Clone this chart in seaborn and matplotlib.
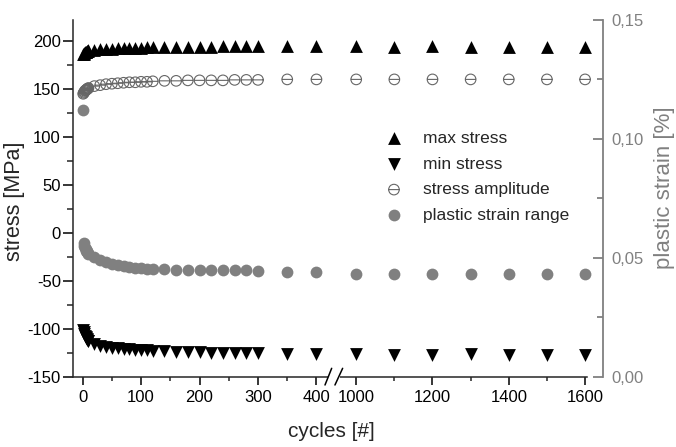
import numpy as np
import matplotlib
matplotlib.use("Agg")
import matplotlib.pyplot as plt
from matplotlib.path import Path
from matplotlib.ticker import FixedLocator, FuncFormatter
import seaborn as sns

# Low-cycle fatigue test: cyclic stress response and plastic strain range
cycles = [1, 2, 3, 4, 5, 6, 7, 8, 9, 10,
          20, 30, 40, 50, 60, 70, 80, 90, 100, 110, 120,
          140, 160, 180, 200, 220, 240, 260, 280, 300,
          350, 400,
          1000, 1100, 1200, 1300, 1400, 1500, 1600]

max_stress = [186, 187, 188, 188.5, 189, 189, 189.5, 190, 190, 190.5,
              191, 191.5, 192, 192, 192.5, 192.5, 193, 193, 193, 193.5, 193.5,
              194, 194, 194, 194, 194, 194.5, 194.5, 194.5, 194.5,
              195, 195,
              194.5, 194, 194.5, 194, 194, 194, 193.5]

min_stress = [-101, -104, -106, -108, -109, -110, -111, -112, -112.5, -113,
              -116, -118, -119, -120, -120.5, -121, -121.5, -122, -122, -122.5, -123,
              -123.5, -124, -124, -124.5, -125, -125, -125, -125.5, -125.5,
              -127, -127,
              -127, -127.5, -127.5, -126.5, -127.5, -127.5, -127.5]

stress_amplitude = [145, 146, 147, 148, 148.5, 149, 149.5, 150, 150.5, 151,
                    153, 154, 155, 155.5, 156, 156.5, 157, 157, 157.5, 157.5, 158,
                    158.5, 158.5, 159, 159, 159, 159, 159.5, 159.5, 159.5,
                    160, 160,
                    160, 160, 160, 160, 160, 160, 160]

plastic_strain_range = [0.112, 0.056, 0.055, 0.054, 0.0535, 0.053, 0.0527, 0.0523, 0.052, 0.0517,
                        0.0502, 0.049, 0.0481, 0.0475, 0.047, 0.0465, 0.0461, 0.0458, 0.0455, 0.0453, 0.0452,
                        0.0451, 0.045, 0.0449, 0.0448, 0.0448, 0.0447, 0.0447, 0.0447, 0.0446,
                        0.0441, 0.0438,
                        0.0431, 0.0432, 0.0431, 0.0432, 0.0431, 0.0431, 0.0431]

series_labels = ["max stress", "min stress", "stress amplitude", "plastic strain range"]

x_major = [0, 100, 200, 300, 400, 1000, 1200, 1400, 1600]
x_minor = [50, 150, 250, 350, 1100, 1300, 1500]
stress_major = [-150, -100, -50, 0, 50, 100, 150, 200]
stress_minor = [-125, -75, -25, 25, 75, 125, 175]
strain_major = [0.0, 0.05, 0.10, 0.15]
strain_minor = [0.025, 0.075, 0.125]

# ---------------------------------------------------------------- style
sns.set_style("ticks")
plt.rcParams["font.family"] = ["Liberation Sans", "DejaVu Sans"]
plt.rcParams["axes.unicode_minus"] = False

GRAY = "#808080"
AMP_GRAY = "#666666"

# ---------------------------------------------------------------- broken cycle axis
SEG_END, SEG_START = 400.0, 1000.0   # gap between these cycle counts
GAP = 68.0                           # width of the gap in scale units
RATIO = 0.6525                       # compression of the high-cycle segment


def fwd(x):
    x = np.asarray(x, dtype=float)
    hi = SEG_END + GAP + (x - SEG_START) * RATIO
    mid = SEG_END + (x - SEG_END) * GAP / (SEG_START - SEG_END)
    return np.where(x <= SEG_END, x, np.where(x >= SEG_START, hi, mid))


def inv(u):
    u = np.asarray(u, dtype=float)
    b1, b2 = SEG_END, SEG_END + GAP
    hi = SEG_START + (u - b2) / RATIO
    mid = SEG_END + (u - b1) * (SEG_START - SEG_END) / GAP
    return np.where(u <= b1, u, np.where(u >= b2, hi, mid))


fig = plt.figure(figsize=(6.76, 4.47), dpi=100)
ax = fig.add_axes([0.1084, 0.1577, 0.7836, 0.7976])
ax.set_xscale("function", functions=(fwd, inv))
ax.set_xlim(-16, 1647)
ax.set_ylim(-150, 222)

ax2 = ax.twinx()
ax2.set_ylim(0, 0.15)

# ---------------------------------------------------------------- markers
theta_marker = Path.make_compound_path(
    Path.unit_circle(),
    Path([(-1.0, 0.0), (1.0, 0.0)], [Path.MOVETO, Path.LINETO]),
)

sns.scatterplot(x=cycles, y=max_stress, ax=ax, marker="^", s=85,
                color="black", edgecolor="black", linewidth=0,
                label=series_labels[0], legend=False, zorder=3)
sns.scatterplot(x=cycles, y=min_stress, ax=ax, marker="v", s=85,
                color="black", edgecolor="black", linewidth=0,
                label=series_labels[1], legend=False, zorder=3)
sns.scatterplot(x=cycles, y=stress_amplitude, ax=ax, marker=theta_marker, s=58,
                color=AMP_GRAY, facecolor="none", edgecolor=AMP_GRAY, linewidth=0.8,
                label=series_labels[2], legend=False, zorder=3)
sns.scatterplot(x=cycles, y=plastic_strain_range, ax=ax2, marker="o", s=72,
                color=GRAY, edgecolor=GRAY, linewidth=0,
                label=series_labels[3], legend=False, zorder=3)

# ---------------------------------------------------------------- axes styling
ax.spines["top"].set_visible(False)
ax.spines["right"].set_visible(False)
ax.spines["left"].set_linewidth(1.1)
ax.spines["bottom"].set_linewidth(1.1)
ax.spines["bottom"].set_bounds(-16, 1605)
for side in ("top", "left", "bottom"):
    ax2.spines[side].set_visible(False)
ax2.spines["right"].set_color(GRAY)
ax2.spines["right"].set_linewidth(1.3)

ax.xaxis.set_major_locator(FixedLocator(x_major))
ax.xaxis.set_minor_locator(FixedLocator(x_minor))
ax.xaxis.set_major_formatter(FuncFormatter(lambda v, p: f"{v:.0f}"))
ax.yaxis.set_major_locator(FixedLocator(stress_major))
ax.yaxis.set_minor_locator(FixedLocator(stress_minor))
ax.yaxis.set_major_formatter(FuncFormatter(lambda v, p: f"{v:.0f}"))
ax2.yaxis.set_major_locator(FixedLocator(strain_major))
ax2.yaxis.set_minor_locator(FixedLocator(strain_minor))
ax2.yaxis.set_major_formatter(FuncFormatter(lambda v, p: f"{v:.2f}".replace(".", ",")))

ax.tick_params(axis="y", which="major", direction="out", length=7, width=1.1,
               labelsize=12, pad=2, colors="black")
ax.tick_params(axis="y", which="minor", direction="out", length=4, width=1.1)
ax.tick_params(axis="x", which="major", direction="out", length=6, width=1.1,
               labelsize=12, pad=4, colors="black")
ax.tick_params(axis="x", which="minor", direction="out", length=3, width=1.1)
ax2.tick_params(axis="y", which="major", direction="in", length=7, width=1.3,
                labelsize=12, pad=6, colors=GRAY)
ax2.tick_params(axis="y", which="minor", direction="in", length=4, width=1.3, colors=GRAY)

ax.set_xlabel("cycles [#]", fontsize=15)
ax.xaxis.set_label_coords(0.4865, -0.128)
ax.set_ylabel("stress [MPa]", fontsize=15.5)
ax.yaxis.set_label_coords(-0.092, 0.49)
ax2.set_ylabel("plastic strain [%]", fontsize=16, color=GRAY)
ax2.yaxis.set_label_coords(1.097, 0.53)

# break marks on the cycle axis
ax.plot([0.484, 0.499], [0, 0], transform=ax.transAxes, color="white",
        lw=3, clip_on=False, zorder=5)
for x0, x1 in [(0.4752, 0.4878), (0.4940, 0.5085)]:
    ax.plot([x0, x1], [-0.0238, 0.0230], transform=ax.transAxes, color="black",
            lw=1.1, clip_on=False, zorder=6)

# ---------------------------------------------------------------- legend
h1, l1 = ax.get_legend_handles_labels()
h2, l2 = ax2.get_legend_handles_labels()
ax2.legend(h1 + h2, l1 + l2, loc="upper left", bbox_to_anchor=(0.589, 0.689),
           frameon=False, borderpad=0, borderaxespad=0, handlelength=1.0,
           handletextpad=1.15, labelspacing=0.6, fontsize=12.5, scatterpoints=1)

fig.savefig("out.png", dpi=100)
